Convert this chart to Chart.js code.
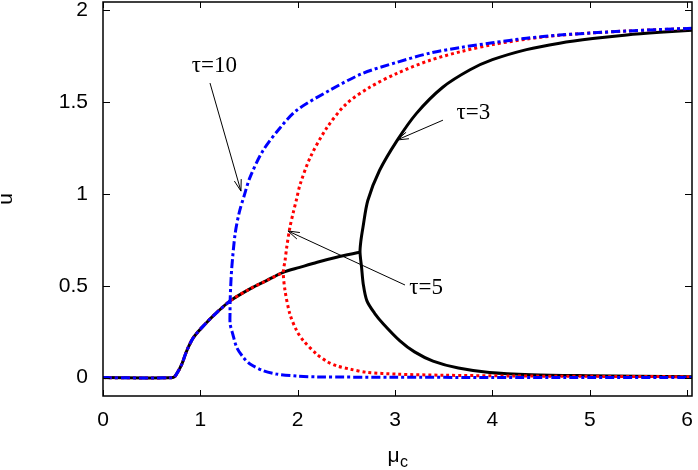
<!DOCTYPE html>
<html><head><meta charset="utf-8">
<script src="https://cdn.jsdelivr.net/npm/chart.js@4/dist/chart.umd.min.js"></script>
<style>html,body{margin:0;padding:0;background:#fff}canvas{display:block}</style>
</head><body>
<canvas id="c" width="698" height="470"></canvas>
<script>
// ---- tick labels ----
const xTicks = [0, 1, 2, 3, 4, 5, 6];
const yTicks = [0, 0.5, 1, 1.5, 2];

// ---- tau = 3 (black, solid) ----
const tau3LowX = [0, 0.72, 0.75, 0.81, 0.86, 0.93, 1.05, 1.17, 1.31, 1.51, 1.68, 1.85, 2.02, 2.20, 2.40, 2.64];
const tau3LowY = [0, 0, 0.015, 0.074, 0.146, 0.219, 0.292, 0.355, 0.419, 0.483, 0.528, 0.573, 0.600, 0.628, 0.655, 0.682];
const tau3FoldX = [6.05, 5.72, 5.38, 5.03, 4.69, 4.35, 4.00, 3.77, 3.49, 3.22, 3.02, 2.84, 2.72, 2.67, 2.648, 2.64, 2.656, 2.673, 2.71, 2.79, 2.88, 3.05, 3.20, 3.39, 3.65, 3.97, 4.40, 5.00, 5.50, 6.05];
const tau3FoldY = [1.890, 1.879, 1.865, 1.845, 1.820, 1.785, 1.730, 1.675, 1.580, 1.438, 1.290, 1.127, 0.964, 0.817, 0.740, 0.682, 0.600, 0.510, 0.419, 0.350, 0.292, 0.200, 0.140, 0.090, 0.052, 0.028, 0.016, 0.010, 0.007, 0.005];

// ---- tau = 5 (red, dotted) ----
const tau5LowX = [0, 0.72, 0.75, 0.81, 0.86, 0.93, 1.05, 1.17, 1.31, 1.51, 1.68, 1.852];
const tau5LowY = [0, 0, 0.015, 0.074, 0.146, 0.219, 0.292, 0.355, 0.419, 0.483, 0.528, 0.573];
const tau5FoldX = [6.05, 5.72, 5.38, 5.03, 4.69, 4.35, 4.00, 3.69, 3.36, 3.02, 2.74, 2.50, 2.30, 2.13, 2.024, 1.99, 1.955, 1.92, 1.887, 1.87, 1.852, 1.87, 1.92, 1.99, 2.06, 2.195, 2.30, 2.40, 2.54, 2.71, 3.02, 3.50, 4.20, 5.00, 6.05];
const tau5FoldY = [1.900, 1.894, 1.886, 1.876, 1.863, 1.842, 1.812, 1.776, 1.727, 1.656, 1.580, 1.490, 1.360, 1.200, 1.050, 0.975, 0.900, 0.818, 0.709, 0.637, 0.573, 0.473, 0.346, 0.255, 0.200, 0.128, 0.088, 0.064, 0.046, 0.029, 0.019, 0.013, 0.009, 0.007, 0.005];

// ---- tau = 10 (blue, dash-dot) ----
const tau10LowX = [0, 0.72, 0.75, 0.81, 0.86, 0.93, 1.05, 1.17, 1.306];
const tau10LowY = [0, 0, 0.015, 0.074, 0.146, 0.219, 0.292, 0.355, 0.419];
const tau10FoldX = [6.05, 5.72, 5.38, 5.03, 4.69, 4.35, 4.00, 3.69, 3.36, 3.02, 2.67, 2.33, 1.99, 1.82, 1.644, 1.51, 1.45, 1.40, 1.357, 1.323, 1.312, 1.306, 1.305, 1.306, 1.333, 1.374, 1.442, 1.51, 1.65, 1.785, 2.00, 2.195, 3.00, 4.00, 5.00, 6.05];
const tau10FoldY = [1.901, 1.894, 1.886, 1.876, 1.864, 1.847, 1.822, 1.798, 1.766, 1.716, 1.656, 1.564, 1.455, 1.360, 1.236, 1.090, 0.990, 0.900, 0.782, 0.600, 0.500, 0.419, 0.360, 0.292, 0.237, 0.164, 0.110, 0.074, 0.037, 0.019, 0.008, 0.004, 0.002, 0.001, 0.001, 0.001];

// ---- annotation labels (data coordinates) ----
const noteText = ['τ=10', 'τ=3', 'τ=5'];
const noteLabelX = [1.145, 3.805, 3.318];
const noteLabelY = [1.696, 1.440, 0.488];
const noteTailX = [1.099, 3.492, 3.102];
const noteTailY = [1.603, 1.401, 0.504];
const noteTipX = [1.417, 3.020, 1.900];
const noteTipY = [1.015, 1.293, 0.798];

const pts = (xs, ys) => xs.map((x, i) => ({x: x, y: ys[i]}));

const BLUE = '#0000ff', RED = '#ff0000', BLACK = '#000000';
const blueStyle = {borderColor: BLUE, borderWidth: 3, borderDash: [9, 3, 3, 3]};
const redStyle = {borderColor: RED, borderWidth: 3, borderDash: [3, 3]};
const blackStyle = {borderColor: BLACK, borderWidth: 3};

const decorPlugin = {
  id: 'decor',
  afterDraw(chart) {
    const ctx = chart.ctx, a = chart.chartArea, sx = chart.scales.x, sy = chart.scales.y;
    ctx.save();
    // frame
    ctx.strokeStyle = '#000';
    ctx.lineWidth = 1.5;
    ctx.strokeRect(a.left, a.top, a.right - a.left, a.bottom - a.top);
    // inward ticks (mirrored)
    ctx.lineWidth = 1;
    ctx.beginPath();
    sx.ticks.forEach(t => {
      const p = Math.round(sx.getPixelForValue(t.value)) + 0.5;
      ctx.moveTo(p, a.bottom); ctx.lineTo(p, a.bottom - 6);
      ctx.moveTo(p, a.top); ctx.lineTo(p, a.top + 6);
    });
    sy.ticks.forEach(t => {
      const p = Math.round(sy.getPixelForValue(t.value)) + 0.5;
      ctx.moveTo(a.left, p); ctx.lineTo(a.left + 7, p);
      ctx.moveTo(a.right, p); ctx.lineTo(a.right - 7, p);
    });
    ctx.stroke();
    // annotations
    ctx.fillStyle = '#000';
    ctx.font = '23px "Liberation Serif", "Times New Roman", serif';
    ctx.textAlign = 'center';
    ctx.textBaseline = 'middle';
    for (let i = 0; i < noteText.length; i++) {
      ctx.fillText(noteText[i], sx.getPixelForValue(noteLabelX[i]), sy.getPixelForValue(noteLabelY[i]));
      const x0 = sx.getPixelForValue(noteTailX[i]), y0 = sy.getPixelForValue(noteTailY[i]);
      const x1 = sx.getPixelForValue(noteTipX[i]), y1 = sy.getPixelForValue(noteTipY[i]);
      const ang = Math.atan2(y1 - y0, x1 - x0), L = 12, h = 0.3;
      ctx.beginPath();
      ctx.moveTo(x0, y0); ctx.lineTo(x1, y1);
      ctx.moveTo(x1 - L * Math.cos(ang - h), y1 - L * Math.sin(ang - h));
      ctx.lineTo(x1, y1);
      ctx.lineTo(x1 - L * Math.cos(ang + h), y1 - L * Math.sin(ang + h));
      ctx.stroke();
    }
    // x axis title: mu with subscript c
    ctx.textAlign = 'left';
    ctx.textBaseline = 'alphabetic';
    const fMain = '21px "Liberation Sans", Arial, sans-serif';
    const fSub = '16px "Liberation Sans", Arial, sans-serif';
    ctx.font = fMain; const wMu = ctx.measureText('μ').width;
    ctx.font = fSub; const wC = ctx.measureText('c').width;
    const cx = (a.left + a.right) / 2;
    const startX = cx - (wMu + wC) / 2;
    ctx.font = fMain; ctx.fillText('μ', startX, 462);
    ctx.font = fSub; ctx.fillText('c', startX + wMu + 0.5, 467);
    ctx.restore();
  }
};

const tickFont = {family: '"Liberation Sans", Arial, sans-serif', size: 21};

new Chart(document.getElementById('c'), {
  type: 'line',
  data: {
    datasets: [
      Object.assign({label: 'τ=10 fold', data: pts(tau10FoldX, tau10FoldY)}, blueStyle),
      Object.assign({label: 'τ=10 branch', data: pts(tau10LowX, tau10LowY)}, blueStyle),
      Object.assign({label: 'τ=5 fold', data: pts(tau5FoldX, tau5FoldY)}, redStyle),
      Object.assign({label: 'τ=5 branch', data: pts(tau5LowX, tau5LowY)}, redStyle),
      Object.assign({label: 'τ=3 fold', data: pts(tau3FoldX, tau3FoldY)}, blackStyle),
      Object.assign({label: 'τ=3 branch', data: pts(tau3LowX, tau3LowY)}, blackStyle)
    ]
  },
  options: {
    responsive: false,
    animation: false,
    devicePixelRatio: 1,
    layout: {padding: {left: 0, right: 6, top: 2, bottom: 0}},
    plugins: {legend: {display: false}, tooltip: {enabled: false}},
    elements: {point: {radius: 0}, line: {tension: 0.3, fill: false}},
    scales: {
      x: {
        type: 'linear', min: 0, max: 6.05,
        grid: {display: false, drawTicks: false},
        border: {display: false},
        ticks: {padding: 12, font: tickFont, color: '#000', maxRotation: 0, autoSkip: false, callback: v => String(v)},
        afterBuildTicks: s => { s.ticks = xTicks.map(v => ({value: v})); },
        afterFit: s => { s.height = 74; s.paddingLeft = 0; s.paddingRight = 0; }
      },
      y: {
        type: 'linear', min: -0.1, max: 2.044,
        grid: {display: false, drawTicks: false},
        border: {display: false},
        ticks: {padding: 15, font: tickFont, color: '#000', autoSkip: false, callback: v => String(v)},
        title: {display: true, text: 'u', color: '#000', font: tickFont, padding: {top: -6.5, bottom: 0}},
        afterBuildTicks: s => { s.ticks = yTicks.map(v => ({value: v})); },
        afterFit: s => { s.width = 103; s.paddingTop = 0; s.paddingBottom = 0; }
      }
    }
  },
  plugins: [decorPlugin]
});
</script>
</body></html>
